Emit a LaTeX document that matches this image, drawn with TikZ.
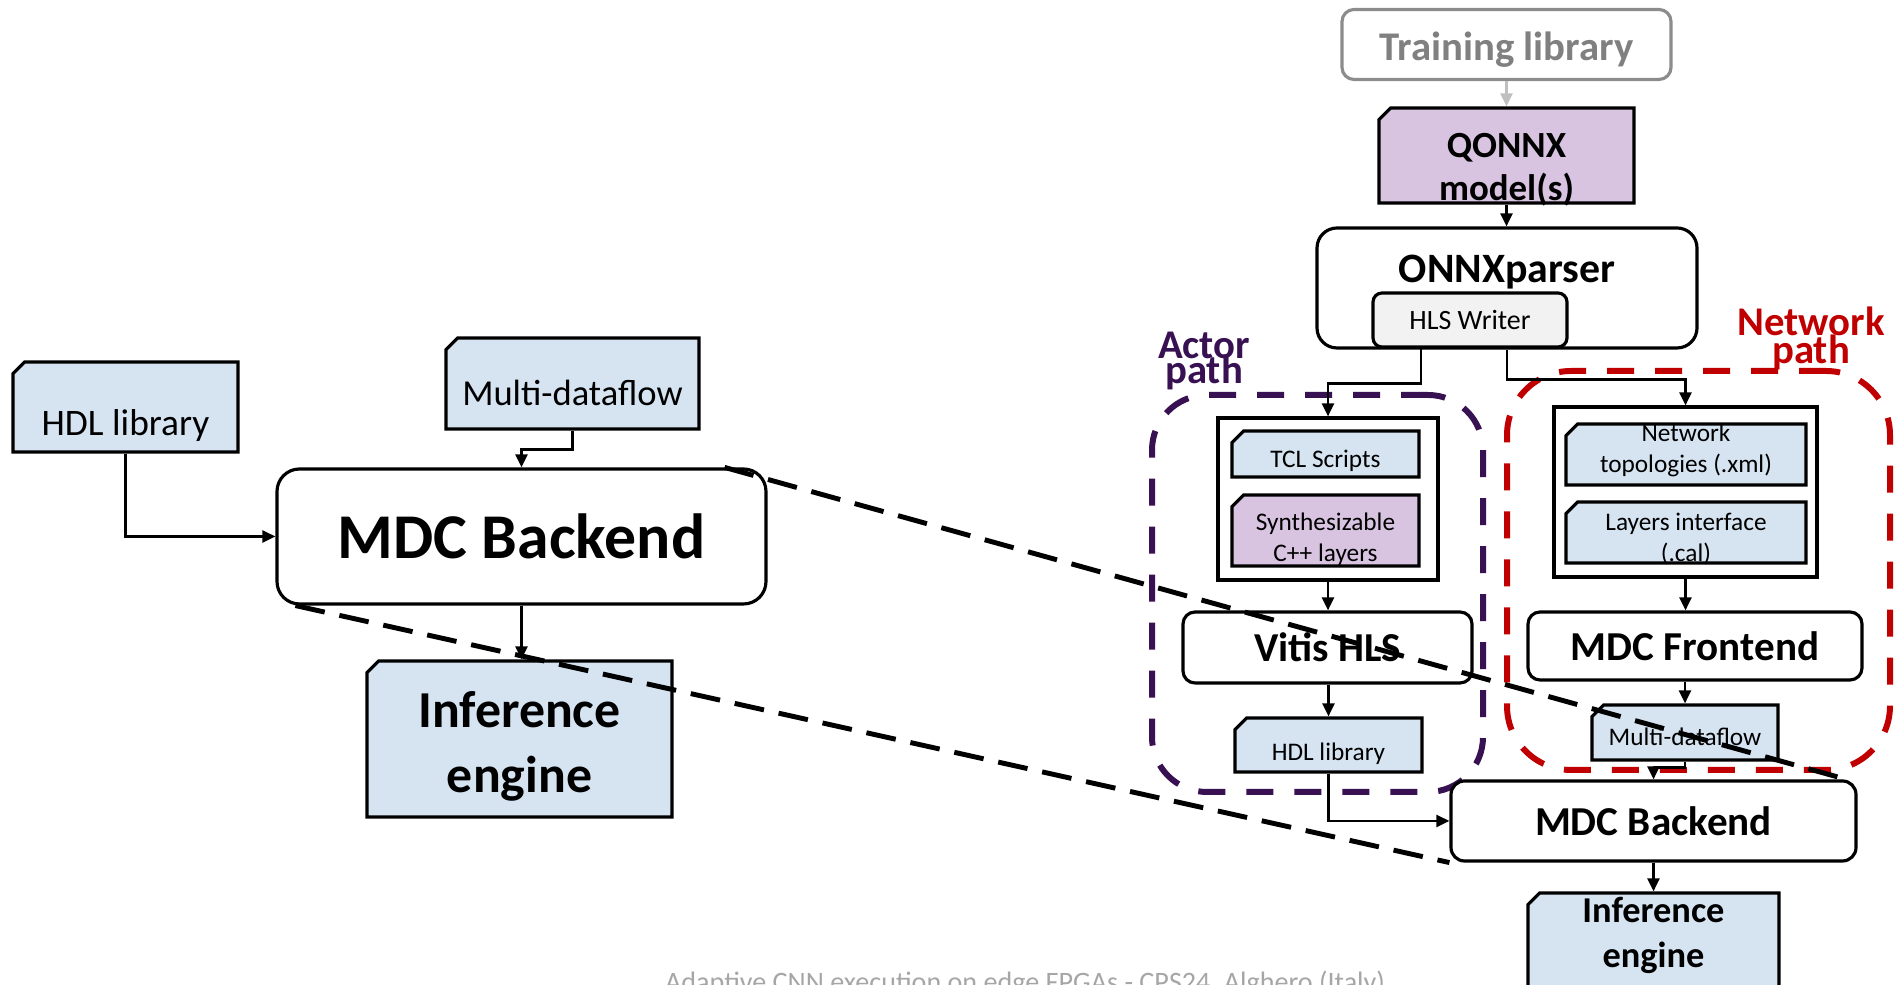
\documentclass[tikz,border=0pt]{standalone}
\usepackage{fontspec}
\setmainfont{Carlito}
\usetikzlibrary{shapes.misc,arrows.meta}

\definecolor{cardblue}{HTML}{D6E4F2}
\definecolor{cardpurple}{HTML}{D8C4E1}
\definecolor{actorcol}{RGB}{56,17,82}
\definecolor{netcol}{HTML}{C00000}
\definecolor{writergray}{HTML}{F2F2F2}

% font size and baseline skip, in pt
\newcommand{\fsz}[2]{\fontsize{#1pt}{#2pt}\selectfont}
% lets two lines sit closer than their glyphs
\newcommand{\tightskip}{\lineskiplimit=-20pt\relax}

\begin{document}
\begin{tikzpicture}
	\useasboundingbox (0,0) rectangle (37.98,19.70);

	\tikzstyle{tool}=[rectangle,draw=black,line width=1.8pt,fill=white,
	rounded corners=0.24cm]
	\tikzstyle{holder}=[rectangle,draw=black,line width=1.8pt,fill=white]
	\tikzstyle{card}=[chamfered rectangle,chamfered rectangle corners=north west,
	draw=black,line width=1.8pt,fill=cardblue]
	\tikzstyle{pathgroup}=[rectangle,line width=3.4pt,
	dash pattern=on 0.54cm off 0.42cm]
	\tikzstyle{smalltxt}=[font=\fsz{14.4}{17.6},align=center]
	\tikzstyle{bigtxt}=[font=\bfseries\fsz{23.4}{28}]
	% width and height in cm, the corner cut is 20% of each
	\tikzset{cardsize/.code 2 args={%
		\pgfmathsetmacro\cutw{0.2*#1}\pgfmathsetmacro\cuth{0.2*#2}%
		\pgfkeysalso{minimum width=#1cm,minimum height=#2cm,
		chamfered rectangle xsep=\cutw cm,chamfered rectangle ysep=\cuth cm}}}

	% left: back end alone
	\node[card,cardsize={4.50}{1.80},
	label={[font=\fsz{21.3}{25},yshift=-0.37cm]center:HDL library}] (hdlL) at (2.51,11.56) {};
	\node[card,cardsize={5.06}{1.82},
	label={[font=\fsz{20.8}{25},yshift=-0.19cm]center:Multi-dataflow}] (mdfL) at (11.45,12.03) {};
	\node[tool,rounded corners=0.45cm,minimum width=9.78cm,minimum height=2.70cm,
	font=\bfseries\fsz{36.3}{44}] (mdcL) at (10.43,8.97) {MDC Backend};
	\node[card,cardsize={6.10}{3.12},
	label={[font=\bfseries\fsz{29.5}{36.8},align=center,yshift=-0.15cm]center:Inference\\engine}]
	(infL) at (10.39,4.92) {};

	% right: the whole flow
	\node[pathgroup,draw=actorcol,rounded corners=1.1cm,minimum width=6.62cm,
	minimum height=7.94cm] (actor) at (26.35,7.83) {};
	\node[pathgroup,draw=netcol,rounded corners=1.28cm,minimum width=7.66cm,
	minimum height=7.98cm] (net) at (33.97,8.29) {};
	\node[font={\bfseries\fsz{23.2}{14.7}\tightskip},text=actorcol,align=center]
	(actorname) at (24.08,12.48) {Actor\\path};
	\node[font={\bfseries\fsz{23.2}{15.9}\tightskip},text=netcol,align=center]
	(netname) at (36.22,12.94) {Network\\path};

	\node[tool,draw=black!45,minimum width=6.58cm,minimum height=1.40cm,
	label={[text=black!50,font=\bfseries\fsz{23.2}{28},yshift=-0.11cm]center:Training library}]
	(train) at (30.13,18.81) {};
	\node[card,fill=cardpurple,cardsize={5.10}{1.90},
	label={[font=\bfseries\fsz{21}{24.4},align=center,yshift=-0.29cm]center:QONNX\\model(s)}]
	(qonnx) at (30.13,16.59) {};
	\node[tool,rounded corners=0.4cm,minimum width=7.60cm,minimum height=2.40cm,
	label={[font=\bfseries\fsz{23.8}{28},yshift=0.32cm]center:ONNXparser}]
	(onnx) at (30.14,13.94) {};
	\node[tool,fill=writergray,rounded corners=0.18cm,minimum width=3.88cm,
	minimum height=1.08cm,font=\fsz{15.9}{19}] (hls) at (29.40,13.30) {HLS Writer};

	\node[holder,minimum width=4.40cm,minimum height=3.24cm] (tclbox) at (26.56,9.72) {};
	\node[card,cardsize={3.74}{0.92},
	label={[smalltxt,yshift=-0.13cm]center:TCL Scripts}] (tcl) at (26.51,10.62) {};
	\node[card,fill=cardpurple,cardsize={3.74}{1.42},
	label={[smalltxt,yshift=-0.17cm]center:Synthesizable\\C++ layers}] (synth) at (26.51,9.09) {};
	\node[tool,minimum width=5.78cm,minimum height=1.42cm,bigtxt] (vitis) at (26.55,6.75) {Vitis HLS};
	\node[card,cardsize={3.74}{1.08},
	label={[smalltxt,yshift=-0.17cm]center:HDL library}] (hdlR) at (26.57,4.80) {};

	\node[holder,minimum width=5.26cm,minimum height=3.40cm] (netbox) at (33.71,9.86) {};
	\node[card,cardsize={4.80}{1.22},
	label={[smalltxt,yshift=0.08cm]center:Network\\topologies (.xml)}] (topo) at (33.72,10.61) {};
	\node[card,cardsize={4.80}{1.22},
	label={[smalltxt,yshift=-0.13cm]center:Layers interface\\(.cal)}] (layers) at (33.72,9.05) {};
	\node[tool,minimum width=6.68cm,minimum height=1.36cm,bigtxt] (mdcF) at (33.90,6.78) {MDC Frontend};
	\node[card,cardsize={3.72}{1.10},
	label={[smalltxt,yshift=-0.09cm]center:Multi-dataflow}] (mdfR) at (33.70,5.05) {};
	\node[tool,rounded corners=0.27cm,minimum width=8.10cm,minimum height=1.60cm,bigtxt]
	(mdcR) at (33.07,3.28) {MDC Backend};
	\node[card,cardsize={5.02}{1.90},
	label={[font=\bfseries\fsz{20.7}{25.5},align=center,yshift=0.1cm]center:Inference\\engine}]
	(infR) at (33.07,0.89) {};

	\node[text=black!35,font=\fsz{16}{19},anchor=base] (footer) at (20.5,-0.14)
	{Adaptive CNN execution on edge FPGAs - CPS24, Alghero (Italy)};

	\tikzstyle{link}=[->,>={Triangle[length=0.26cm,width=0.24cm]},line width=1.4pt]

	\draw[link] (hdlL.south) |- (mdcL.west);
	\draw[link] (mdfL.south) -- ++(0,-0.38) -| (mdcL.north);
	\draw[link] (mdcL.south) -- (mdcL.south |- infL.north);

	\draw[link,draw=black!25] (train.south) -- (qonnx.north);
	\draw[link] (qonnx.south) -- (qonnx.south |- onnx.north);
	\draw[link] ([xshift=-0.98cm]hls.south) -- ++(0,-0.7) -| (tclbox.north);
	\draw[link] (onnx.south) -- ++(0,-0.6) -| (netbox.north);
	\draw[link] (tclbox.south) -- (tclbox.south |- vitis.north);
	\draw[link] (hdlR.north |- vitis.south) -- (hdlR.north);
	\draw[link] (hdlR.south) |- (mdcR.west);
	\draw[link] (netbox.south) -- (netbox.south |- mdcF.north);
	\draw[link] (mdfR.north |- mdcF.south) -- (mdfR.north);
	\draw[link] (mdfR.south) -- ++(0,-0.12) -| (mdcR.north);
	\draw[link] (mdcR.south) -- (infR.north);

	% back end zoomed out
	\tikzstyle{zoomline}=[line width=2.8pt,dash pattern=on 0.6cm off 0.3cm]
	\draw[zoomline] ([xshift=-0.86cm]mdcL.north east) -- ([xshift=-0.22cm]mdcR.north east);
	\draw[zoomline] ([xshift=0.4cm]mdcL.south west) -- (mdcR.south west);
\end{tikzpicture}
\end{document}
